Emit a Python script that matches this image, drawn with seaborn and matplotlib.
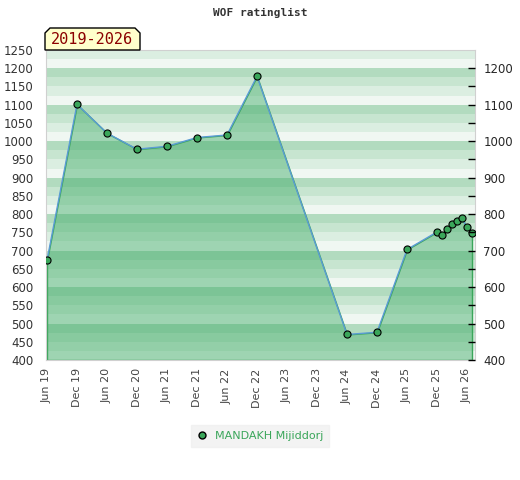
import numpy as np
import pandas as pd
import seaborn as sns
import matplotlib
matplotlib.use("Agg")
from matplotlib import pyplot as plt
from matplotlib.lines import Line2D
from matplotlib.patches import Polygon

# months counted from Jun 2019
months = [0, 6, 12, 18, 24, 30, 36, 42, 60, 66, 72, 78, 79, 80, 81, 82, 83, 84, 85]
ratings = [673, 1101, 1022, 978, 986, 1010, 1017, 1178, 470, 476, 703,
           751, 742, 758, 772, 782, 788, 764, 747]
tick_months = [0, 6, 12, 18, 24, 30, 36, 42, 48, 54, 60, 66, 72, 78, 84]
tick_labels = ["Jun 19", "Dec 19", "Jun 20", "Dec 20", "Jun 21", "Dec 21", "Jun 22",
               "Dec 22", "Jun 23", "Dec 23", "Jun 24", "Dec 24", "Jun 25", "Dec 25", "Jun 26"]
player = "MANDAKH Mijiddorj"
period = "2019-2026"

df = pd.DataFrame({"month": months, "rating": ratings})

sns.set_style("white")
plt.rcParams["font.family"] = ["DejaVu Sans"]

fig = plt.figure(figsize=(5.2, 4.8), dpi=100)
ax = fig.add_axes([46 / 520, 1 - 360 / 480, 429 / 520, 310 / 480])

ymin, ymax = 400, 1250
shades = ["#f0f7f2", "#dbeee1", "#c7e5d0", "#b2dbbf"]
for i, lo in enumerate(range(ymin, ymax, 25)):
    ax.axhspan(lo, lo + 25, color=shades[i % 4], lw=0, zorder=0)

ax.fill_between(df["month"], df["rating"], ymin, facecolor=(60 / 255, 170 / 255, 100 / 255, 0.45),
                edgecolor="#3aa65a", linewidth=1, zorder=1)
sns.lineplot(data=df, x="month", y="rating", ax=ax, color="#5b9bd5", linewidth=1.0, zorder=2)
sns.scatterplot(data=df, x="month", y="rating", ax=ax, color="#3aa65a", edgecolor="black",
                linewidth=0.8, s=26, zorder=3)

ax.set_xlim(-0.2, 85.6)
ax.set_ylim(ymin, ymax)
ax.set_xlabel("")
ax.set_ylabel("")
ax.set_xticks(tick_months)
ax.set_xticklabels(tick_labels, rotation=90, fontsize=8, color="#444444")
ax.set_yticks(range(400, 1251, 50))
ax.tick_params(axis="y", length=0, pad=9, labelsize=8.5, labelcolor="#333333")
ax.tick_params(axis="x", length=0, pad=6)
for s in ax.spines.values():
    s.set_color("#d0d0d0")

ax2 = ax.twinx()
ax2.set_ylim(ymin, ymax)
ax2.set_yticks(range(400, 1201, 100))
ax2.set_yticks(range(450, 1200, 100), minor=True)
ax2.tick_params(axis="y", which="both", direction="in", length=5, width=1, color="black",
                labelsize=8.5, pad=6)
for s in ax2.spines.values():
    s.set_visible(False)

fig.text(0.5, 1 - 13 / 480, "WOF ratinglist", ha="center", va="center",
         fontsize=8, fontweight="bold", family="DejaVu Sans Mono", color="#333333")

pts = np.array([[45, 50], [45, 33], [50, 28], [135, 28], [140, 33], [140, 50]], dtype=float)
pts[:, 0] /= 520
pts[:, 1] = 1 - pts[:, 1] / 480
fig.patches.append(Polygon(pts, closed=True, transform=fig.transFigure, facecolor="#ffffcc",
                           edgecolor="black", linewidth=1, zorder=5))
fig.text(92 / 520, 1 - 40 / 480, period, ha="center", va="center", fontsize=11,
         family="DejaVu Sans Mono", color="#8b0000", zorder=6)

handle = Line2D([], [], marker="o", linestyle="", markerfacecolor="#3aa65a",
                markeredgecolor="black", markersize=5)
leg = fig.legend([handle], [player], loc="center", bbox_to_anchor=(260 / 520, 1 - 436 / 480),
                 frameon=True, fancybox=False, facecolor="#f0f0f0", edgecolor="#f0f0f0",
                 fontsize=8, handletextpad=0.6, borderpad=0.5, handlelength=1)
for t in leg.get_texts():
    t.set_color("#3aa65a")

fig.savefig("out.png", dpi=100)
